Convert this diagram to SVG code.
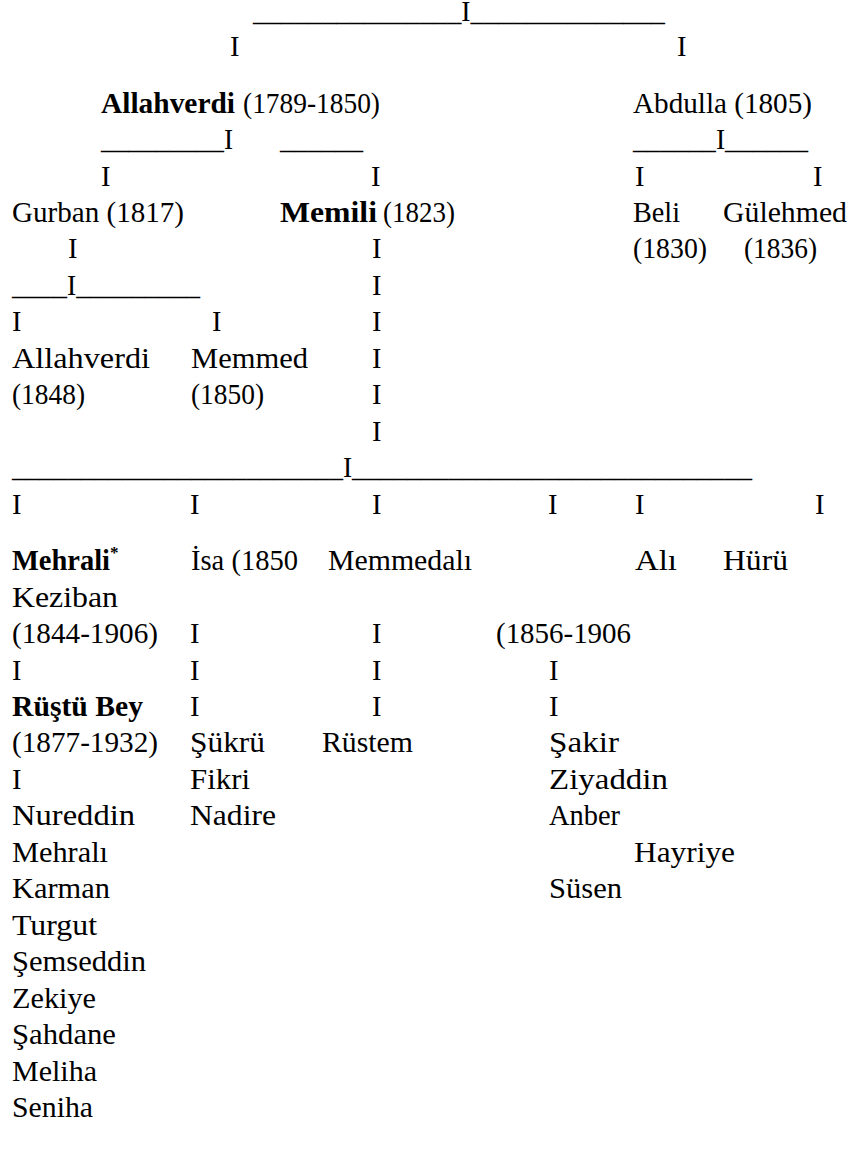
<svg xmlns="http://www.w3.org/2000/svg" width="855" height="1149" viewBox="0 0 855 1149">
<style>
text{font-family:'Liberation Serif','DejaVu Serif',serif;font-size:28.5px;fill:#000;}
.b{font-weight:bold;}
.sup{font-size:17px;font-weight:bold;}
</style>
<rect width="855" height="1149" fill="#fff"/>
<g id="connectors">
<text x="253" y="21" textLength="412" lengthAdjust="spacingAndGlyphs">_______________I______________</text>
<text x="230" y="56">I</text>
<text x="677" y="56">I</text>
<text x="101" y="149" textLength="132" lengthAdjust="spacingAndGlyphs">_________I</text>
<text x="280" y="149" textLength="83" lengthAdjust="spacingAndGlyphs">______</text>
<text x="633" y="149" textLength="175" lengthAdjust="spacingAndGlyphs">______I______</text>
<text x="101" y="186">I</text>
<text x="371" y="186">I</text>
<text x="635" y="186">I</text>
<text x="813" y="186">I</text>
<text x="68" y="258">I</text>
<text x="372" y="258">I</text>
<text x="12" y="295" textLength="188" lengthAdjust="spacingAndGlyphs">____I_________</text>
<text x="372" y="295">I</text>
<text x="12" y="331">I</text>
<text x="212" y="331">I</text>
<text x="372" y="331">I</text>
<text x="372" y="368">I</text>
<text x="372" y="404">I</text>
<text x="372" y="441">I</text>
<text x="12" y="477" textLength="740" lengthAdjust="spacingAndGlyphs">________________________I_____________________________</text>
<text x="12" y="514">I</text>
<text x="190" y="514">I</text>
<text x="372" y="514">I</text>
<text x="548" y="514">I</text>
<text x="635" y="514">I</text>
<text x="815" y="514">I</text>
<text x="190" y="643">I</text>
<text x="372" y="643">I</text>
<text x="12" y="680">I</text>
<text x="190" y="680">I</text>
<text x="372" y="680">I</text>
<text x="549" y="680">I</text>
<text x="190" y="716">I</text>
<text x="372" y="716">I</text>
<text x="549" y="716">I</text>
<text x="12" y="789">I</text>
</g>
<g id="allahverdi"><text x="101" y="113" class="b" textLength="134" lengthAdjust="spacingAndGlyphs">Allahverdi</text><text x="243" y="113" textLength="137" lengthAdjust="spacingAndGlyphs">(1789-1850)</text></g>
<g id="abdulla"><text x="633" y="113" textLength="179" lengthAdjust="spacingAndGlyphs">Abdulla (1805)</text></g>
<g id="gurban"><text x="12" y="222" textLength="172" lengthAdjust="spacingAndGlyphs">Gurban (1817)</text></g>
<g id="memili"><text x="280" y="222" class="b" textLength="97" lengthAdjust="spacingAndGlyphs">Memili</text><text x="383" y="222" textLength="72" lengthAdjust="spacingAndGlyphs">(1823)</text></g>
<g id="beli"><text x="633" y="222" textLength="47" lengthAdjust="spacingAndGlyphs">Beli</text><text x="633" y="258" textLength="74" lengthAdjust="spacingAndGlyphs">(1830)</text></g>
<g id="gulehmed"><text x="723" y="222" textLength="124" lengthAdjust="spacingAndGlyphs">Gülehmed</text><text x="744" y="258" textLength="73" lengthAdjust="spacingAndGlyphs">(1836)</text></g>
<g id="allahverdi2"><text x="12" y="368" textLength="138" lengthAdjust="spacingAndGlyphs">Allahverdi</text><text x="12" y="404" textLength="73" lengthAdjust="spacingAndGlyphs">(1848)</text></g>
<g id="memmed"><text x="191" y="368" textLength="117" lengthAdjust="spacingAndGlyphs">Memmed</text><text x="191" y="404" textLength="73" lengthAdjust="spacingAndGlyphs">(1850)</text></g>
<g id="mehrali"><text x="12" y="570" class="b" textLength="98" lengthAdjust="spacingAndGlyphs">Mehrali</text><text x="110" y="558" class="sup">*</text></g>
<g id="keziban"><text x="12" y="607" textLength="106" lengthAdjust="spacingAndGlyphs">Keziban</text><text x="12" y="643" textLength="146" lengthAdjust="spacingAndGlyphs">(1844-1906)</text></g>
<g id="isa"><text x="191" y="570" textLength="107" lengthAdjust="spacingAndGlyphs">İsa (1850</text></g>
<g id="memmedali"><text x="328" y="570" textLength="144" lengthAdjust="spacingAndGlyphs">Memmedalı</text></g>
<g id="ali"><text x="635" y="570" textLength="42" lengthAdjust="spacingAndGlyphs">Alı</text></g>
<g id="huru"><text x="723" y="570" textLength="65" lengthAdjust="spacingAndGlyphs">Hürü</text></g>
<g id="unknown1856"><text x="496" y="643" textLength="135" lengthAdjust="spacingAndGlyphs">(1856-1906</text></g>
<g id="rustu"><text x="12" y="716" class="b" textLength="131" lengthAdjust="spacingAndGlyphs">Rüştü Bey</text><text x="12" y="752" textLength="146" lengthAdjust="spacingAndGlyphs">(1877-1932)</text></g>
<g id="sukru"><text x="190" y="752" textLength="75" lengthAdjust="spacingAndGlyphs">Şükrü</text></g>
<g id="rustem"><text x="322" y="752" textLength="91" lengthAdjust="spacingAndGlyphs">Rüstem</text></g>
<g id="sakir"><text x="549" y="752" textLength="70" lengthAdjust="spacingAndGlyphs">Şakir</text></g>
<g id="fikri"><text x="190" y="789" textLength="60" lengthAdjust="spacingAndGlyphs">Fikri</text></g>
<g id="ziyaddin"><text x="549" y="789" textLength="119" lengthAdjust="spacingAndGlyphs">Ziyaddin</text></g>
<g id="nureddin"><text x="12" y="825" textLength="123" lengthAdjust="spacingAndGlyphs">Nureddin</text></g>
<g id="nadire"><text x="190" y="825" textLength="86" lengthAdjust="spacingAndGlyphs">Nadire</text></g>
<g id="anber"><text x="549" y="825" textLength="71" lengthAdjust="spacingAndGlyphs">Anber</text></g>
<g id="mehrali2"><text x="12" y="862" textLength="96" lengthAdjust="spacingAndGlyphs">Mehralı</text></g>
<g id="hayriye"><text x="634" y="862" textLength="101" lengthAdjust="spacingAndGlyphs">Hayriye</text></g>
<g id="karman"><text x="12" y="898" textLength="98" lengthAdjust="spacingAndGlyphs">Karman</text></g>
<g id="susen"><text x="549" y="898" textLength="73" lengthAdjust="spacingAndGlyphs">Süsen</text></g>
<g id="turgut"><text x="12" y="935" textLength="85" lengthAdjust="spacingAndGlyphs">Turgut</text></g>
<g id="semseddin"><text x="12" y="971" textLength="134" lengthAdjust="spacingAndGlyphs">Şemseddin</text></g>
<g id="zekiye"><text x="12" y="1008" textLength="84" lengthAdjust="spacingAndGlyphs">Zekiye</text></g>
<g id="sahdane"><text x="12" y="1044" textLength="104" lengthAdjust="spacingAndGlyphs">Şahdane</text></g>
<g id="meliha"><text x="12" y="1081" textLength="85" lengthAdjust="spacingAndGlyphs">Meliha</text></g>
<g id="seniha"><text x="12" y="1117" textLength="81" lengthAdjust="spacingAndGlyphs">Seniha</text></g>
</svg>
